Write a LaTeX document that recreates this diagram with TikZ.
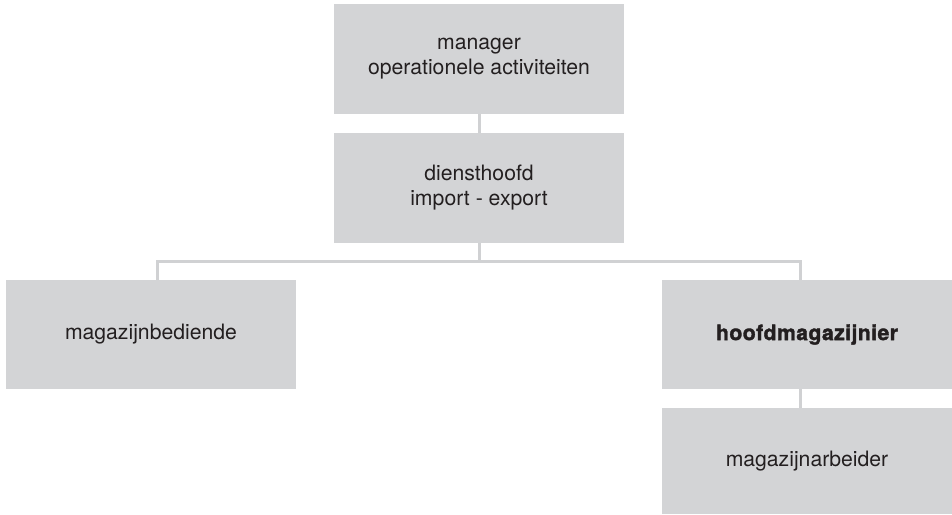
\documentclass[tikz,border=0pt]{standalone}
\usepackage{fontspec}
\setmainfont{TeX Gyre Heros}
\newfontfamily\heavyfont{TeX Gyre Heros}[UprightFont=*-Bold,FakeBold=1.6,LetterSpace=2]
\definecolor{boxgray}{HTML}{D3D4D6}
\definecolor{linegray}{HTML}{D0D1D3}
\definecolor{txt}{HTML}{231F20}
\begin{document}
\begin{tikzpicture}[x=1pt,y=-1pt,
  orgbox/.style={fill=boxgray,draw=none,minimum width=290pt,inner sep=0pt,align=center,
    text=txt,font=\fontsize{21.2pt}{25pt}\selectfont},
  link/.style={draw=linegray,line width=3pt}]
\useasboundingbox (0,0) rectangle (952,514);
\node[orgbox,minimum height=110pt] (mgr) at (479,59) {manager\\operationele activiteiten};
\node[orgbox,minimum height=110pt] (dh) at (479,188) {diensthoofd\\import - export};
\node[orgbox,minimum height=109pt] (mb) at (151,334.5) {magazijnbediende};
\node[orgbox,minimum height=109pt,font=\fontsize{21.2pt}{25pt}\heavyfont] (hm) at (807,334.5) {hoofdmagazijnier};
\node[orgbox,minimum height=106pt] (ma) at (807,461) {magazijnarbeider};
\coordinate (j) at (479,261.5);
\path[link] (mgr.south) -- (dh.north);
\path[link] (dh.south) -- (j);
\path[link] (j) -| (mb.north -| 157,0);
\path[link] (j) -| (hm.north -| 800,0);
\path[link] (hm.south -| 800,0) -- (ma.north -| 800,0);
\end{tikzpicture}
\end{document}
